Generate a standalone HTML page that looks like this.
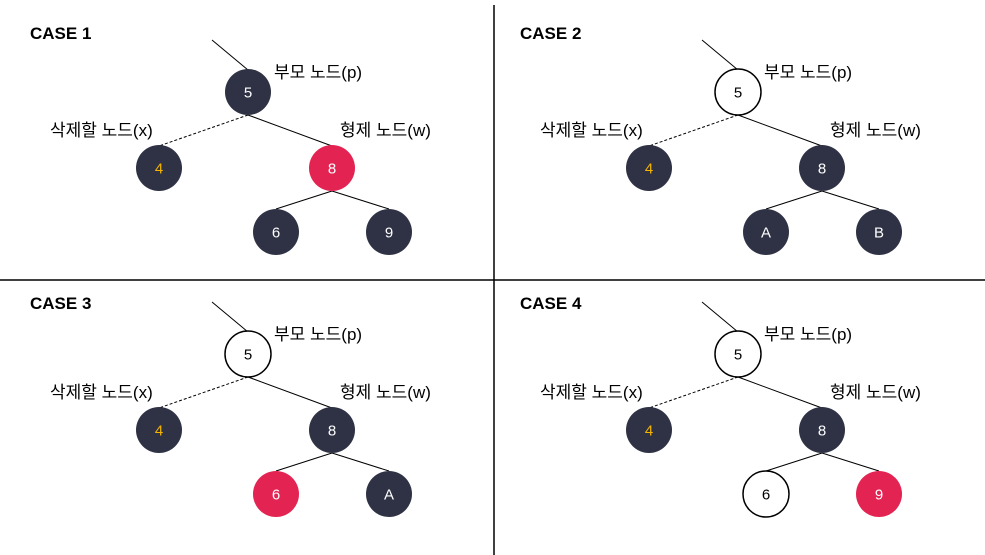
<!DOCTYPE html>
<html><head><meta charset="utf-8">
<style>
html,body{margin:0;padding:0;background:#fff;width:985px;height:555px;overflow:hidden}
svg{display:block}
text{font-family:"Liberation Sans","Noto Sans CJK KR",sans-serif}
</style></head>
<body>
<svg id="d" width="985" height="555" xmlns="http://www.w3.org/2000/svg">
<line x1="494" y1="5" x2="494" y2="555" stroke="#000" stroke-width="1.5"/>
<line x1="0" y1="280" x2="985" y2="280" stroke="#000" stroke-width="1.5"/>
</svg>
<script>
const caseTitles=["CASE 1","CASE 2","CASE 3","CASE 4"];
const caseOffsets=[[0,0],[490,0],[0,260],[490,260]];
const rootFill=["dark","white","white","white"];
const siblingFill=["red","dark","dark","dark"];
const leftChild=[["6","dark"],["A","dark"],["6","red"],["6","white"]];
const rightChild=[["9","dark"],["B","dark"],["A","dark"],["9","red"]];
const colors={dark:"#2e3244",red:"#e32452",white:"#ffffff"};
const svg=document.getElementById('d');
const NS="http://www.w3.org/2000/svg";
function mk(tag,attrs,parent){const e=document.createElementNS(NS,tag);for(const k in attrs)e.setAttribute(k,attrs[k]);(parent||svg).appendChild(e);return e;}
function node(g,cx,cy,label,fill,txtColor,name){
  const c=mk('circle',{cx:cx,cy:cy,r:23,fill:colors[fill],stroke:fill==="white"?"#000":"none","stroke-width":1.5},g);
  
  
  const t=mk('text',{x:cx,y:cy+5.5,"text-anchor":"middle","font-size":15,fill:txtColor||(fill==="white"?"#000":"#fff")},g);
  t.textContent=label;
  
  
}
caseTitles.forEach((title,i)=>{
  const [ox,oy]=caseOffsets[i];
  const g=mk('g',{transform:`translate(${ox},${oy})`});
  
  
  const yo = i>=2 ? 2 : 0;
  const tt=mk('text',{x:30,y:39+(i>=2?10:0),"font-size":17,"font-weight":"bold",fill:"#000"},g);
  tt.textContent=title;
  
  
  const R=[248,92+yo],L=[159,168+yo],S=[332,168+yo],C1=[276,232+yo],C2=[389,232+yo];
  if(i>=2){R[1]+=0;}
  const lines=[[212,40+yo,R[0],R[1]-22,false],[R[0],R[1]+23,S[0],S[1]-22,false],[R[0],R[1]+23,L[0],L[1]-22,true],[S[0],S[1]+23,C1[0],C1[1]-23,false],[S[0],S[1]+23,C2[0],C2[1]-23,false]];
  lines.forEach(l=>{const e=mk('line',{x1:l[0],y1:l[1],x2:l[2],y2:l[3],stroke:"#000","stroke-width":1,"stroke-dasharray":l[4]?"3,2":"none"},g);
    
    });
  const labels=[[274,78+yo,"부모 노드(p)","parent-node-label"],[50,136+yo,"삭제할 노드(x)","delete-node-label"],[340,136+yo,"형제 노드(w)","sibling-node-label"]];
  labels.forEach(l=>{const t=mk('text',{x:l[0],y:l[1],"font-size":17,fill:"#000"},g);t.textContent=l[2];
    
    });
  node(g,R[0],R[1],"5",rootFill[i],null,'parent-node');
  node(g,L[0],L[1],"4","dark","#f4b400",'delete-node');
  node(g,S[0],S[1],"8",siblingFill[i],null,'sibling-node');
  node(g,C1[0],C1[1],leftChild[i][0],leftChild[i][1],null,'sibling-left-child');
  node(g,C2[0],C2[1],rightChild[i][0],rightChild[i][1],null,'sibling-right-child');
});
</script>
</body></html>
